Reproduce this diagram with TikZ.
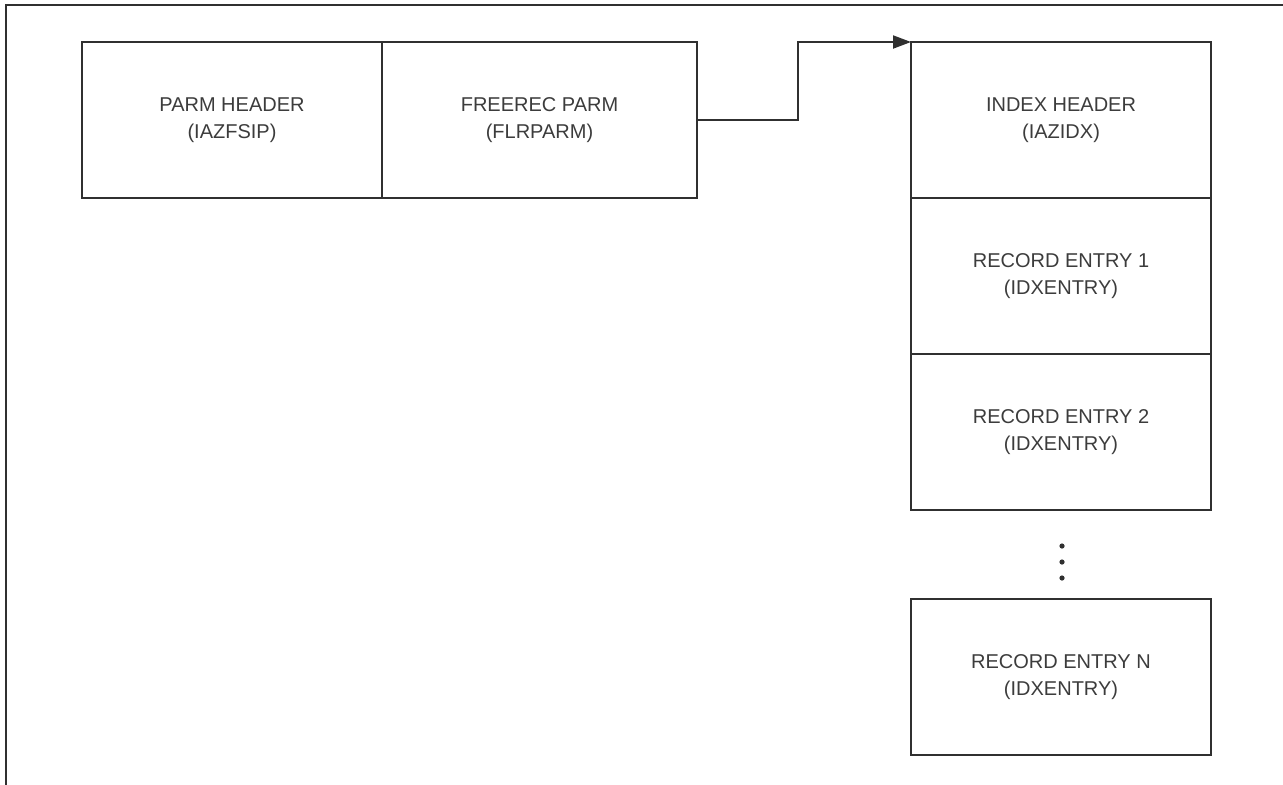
\documentclass[tikz,border=0pt]{standalone}
\usepackage{fontspec}
\setmainfont{Liberation Sans}
\usepackage{tikz}
\usetikzlibrary{arrows.meta,positioning}
\definecolor{inkgray}{HTML}{303030}
\definecolor{txtgray}{HTML}{3C3C3C}
\tikzset{
  blk/.style={draw=inkgray, line width=1pt, outer sep=0pt, inner sep=0pt, align=center,
    text=txtgray, font=\fontsize{10}{13.5}\selectfont, minimum height=78pt},
  hdrblk/.style={blk, minimum width=150pt},
  widblk/.style={blk, minimum width=157.5pt},
  conn/.style={-{Triangle[length=9pt, width=6.5pt]}, line width=1pt, inkgray},
  frameline/.style={line width=1pt, inkgray},
}

\begin{document}
\begin{tikzpicture}[x=0.5pt, y=-0.5pt]
        \useasboundingbox (0,0) rectangle (1283,784);
        \draw[frameline] (6,790) -- (6,4.5) -- (1290,4.5);
        \node[hdrblk] (parmhdr) at (232,120) {PARM HEADER\\(IAZFSIP)};
        \node[widblk, right=0pt of parmhdr] (freerec) {FREEREC PARM\\(FLRPARM)};
        \node[hdrblk] (idxhdr) at (1061,120) {INDEX HEADER\\(IAZIDX)};
        \node[hdrblk, below=0pt of idxhdr] (rec1) {RECORD ENTRY 1\\(IDXENTRY)};
        \node[hdrblk, below=0pt of rec1] (rec2) {RECORD ENTRY 2\\(IDXENTRY)};
        \node[hdrblk] (recn) at (1061,677) {RECORD ENTRY N\\(IDXENTRY)};
        \coordinate (bend) at (798,120);
        \draw[conn] (freerec.east) -- (bend) |- (idxhdr.north west);
        \foreach \y in {546,562,578}
          \fill[inkgray] (1062,\y) circle (2.6);
      \end{tikzpicture}
\end{document}
